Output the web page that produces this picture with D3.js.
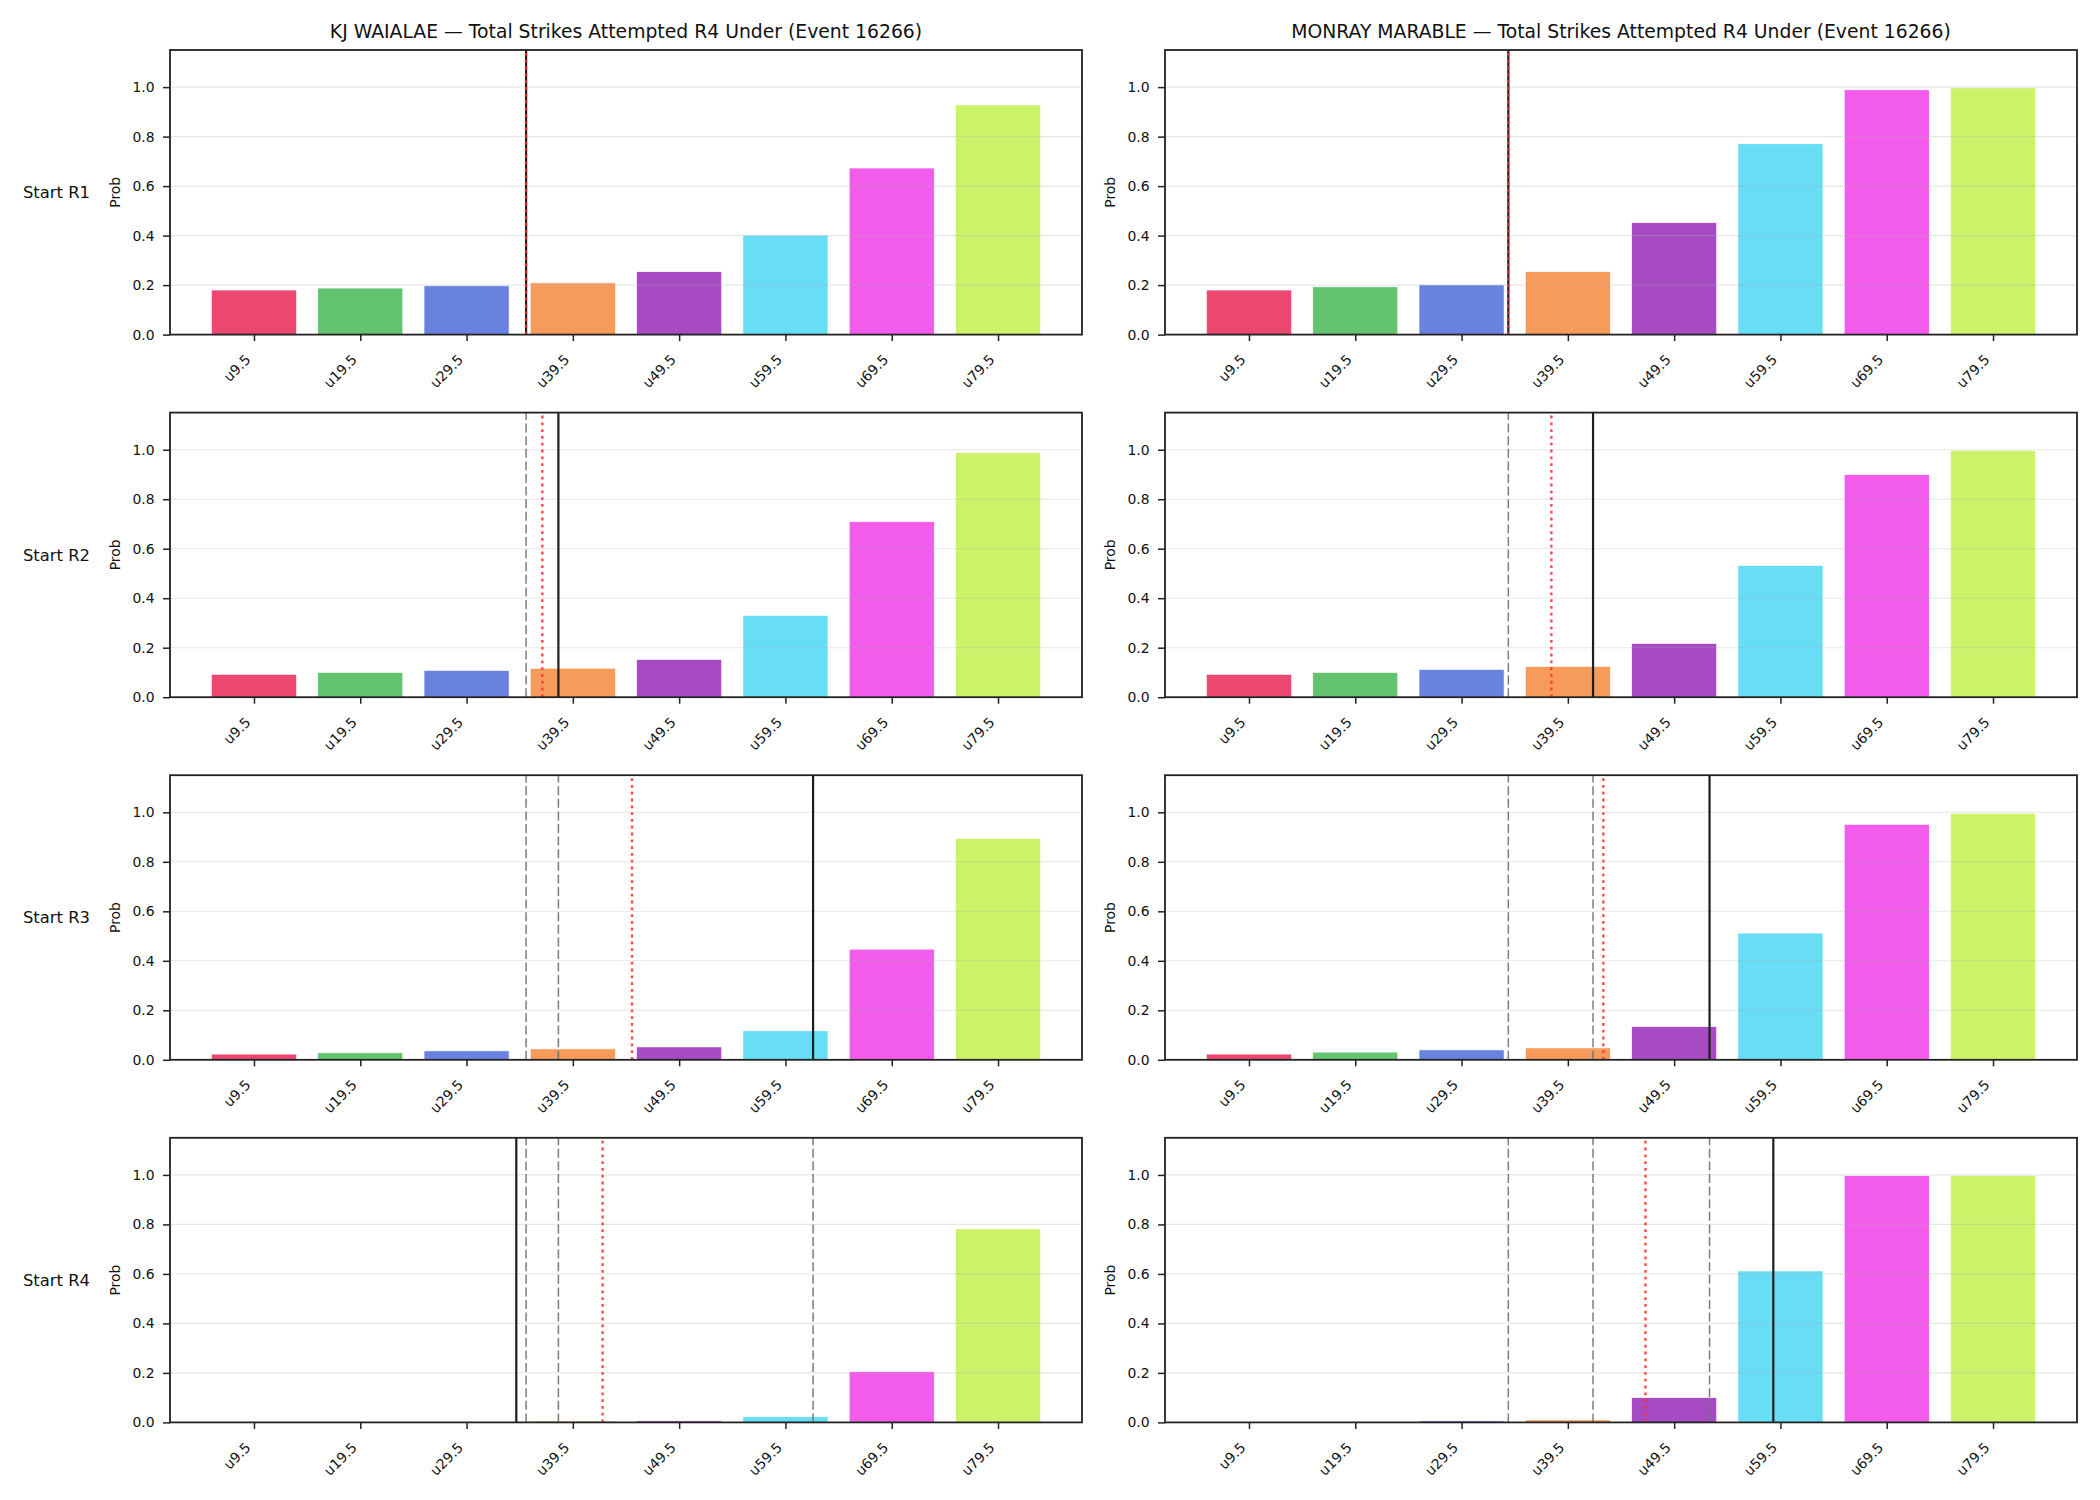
<!DOCTYPE html>
<html>
<head>
<meta charset="utf-8">
<script src="https://cdn.jsdelivr.net/npm/d3@7"></script>
<style>
  html, body { margin: 0; padding: 0; background: #ffffff; }
  svg { display: block; font-family: "DejaVu Sans", sans-serif; }
</style>
</head>
<body>
<svg id="chart" width="2100" height="1500"></svg>
<script>
// ---------------- DATA ----------------
const players = ["KJ WAIALAE", "MONRAY MARABLE"];
const titleSuffix = " — Total Strikes Attempted R4 Under (Event 16266)";
const rounds = ["Start R1", "Start R2", "Start R3", "Start R4"];
const categories = ["u9.5", "u19.5", "u29.5", "u39.5", "u49.5", "u59.5", "u69.5", "u79.5"];
const barColors = ["#e6194b", "#3cb44b", "#4363d8", "#f58231", "#911eb4", "#42d4f4", "#f032e6", "#bfef45"];
const yTicks = [0.0, 0.2, 0.4, 0.6, 0.8, 1.0];

// probabilities per round (rows) per category
const kjProbs = [
  [0.180, 0.188, 0.197, 0.209, 0.254, 0.402, 0.673, 0.928],
  [0.092, 0.100, 0.108, 0.117, 0.152, 0.330, 0.709, 0.988],
  [0.023, 0.028, 0.036, 0.044, 0.052, 0.117, 0.447, 0.895],
  [0.0005, 0.001, 0.002, 0.005, 0.006, 0.023, 0.205, 0.782]
];
const mmProbs = [
  [0.180, 0.193, 0.201, 0.254, 0.452, 0.771, 0.989, 0.997],
  [0.092, 0.100, 0.112, 0.124, 0.217, 0.532, 0.899, 0.996],
  [0.023, 0.031, 0.040, 0.048, 0.134, 0.512, 0.951, 0.996],
  [0.0005, 0.002, 0.006, 0.010, 0.100, 0.612, 0.997, 0.997]
];

// vertical marker positions, in category-index units
const kjSolid  = [2.56, 2.864, 5.26, 2.468];   // black solid line per round
const kjDotted = [2.56, 2.713, 3.557, 3.28];   // red dotted line per round
const mmSolid  = [2.44, 3.237, 4.333, 4.933];
const mmDotted = [2.44, 2.845, 3.334, 3.73];

// ---------------- LAYOUT ----------------
const svg = d3.select("#chart");
svg.append("rect").attr("width", 2100).attr("height", 1500).attr("fill", "#fff");

const colLeft = [170, 1165];
const panelW = 912;
const rowTop0 = 50, rowPitch = 362.6, panelH = 284.6;

const playerData = [
  { probs: kjProbs, solid: kjSolid, dotted: kjDotted },
  { probs: mmProbs, solid: mmSolid, dotted: mmDotted }
];

const x = d3.scaleLinear().domain([-0.79, 7.79]).range([0, panelW]);
const y = d3.scaleLinear().domain([0, 1.15]).range([panelH, 0]);
const barW = x(0.8) - x(0);

playerData.forEach((pd, c) => {
  rounds.forEach((rname, r) => {
    const g = svg.append("g")
      .attr("transform", `translate(${colLeft[c]},${rowTop0 + r * rowPitch})`);

    const vals = pd.probs[r];

    // bars
    g.selectAll("rect.bar").data(vals).enter().append("rect")
      .attr("class", "bar")
      .attr("x", (d, i) => x(i - 0.4))
      .attr("width", barW)
      .attr("y", d => y(d))
      .attr("height", d => y(0) - y(d))
      .attr("fill", (d, i) => barColors[i])
      .attr("fill-opacity", 0.8)
      .attr("stroke", "#fff")
      .attr("stroke-width", 0.6);

    // grid (over bars, like matplotlib default)
    g.selectAll("line.grid").data(yTicks.slice(1)).enter().append("line")
      .attr("class", "grid")
      .attr("x1", 0).attr("x2", panelW)
      .attr("y1", d => y(d)).attr("y2", d => y(d))
      .attr("stroke", "#b0b0b0").attr("stroke-opacity", 0.3)
      .attr("stroke-width", 1.1);

    // previous rounds' solid values as gray dashed lines
    const prev = pd.solid.slice(0, r);
    g.selectAll("line.prev").data(prev).enter().append("line")
      .attr("class", "prev")
      .attr("x1", d => x(d)).attr("x2", d => x(d))
      .attr("y1", y(0)).attr("y2", y(1.15))
      .attr("stroke", "#6e6e6e").attr("stroke-opacity", 0.9)
      .attr("stroke-width", 1.5)
      .attr("stroke-dasharray", "9,3.6");

    // black solid
    g.append("line")
      .attr("x1", x(pd.solid[r])).attr("x2", x(pd.solid[r]))
      .attr("y1", y(0)).attr("y2", y(1.15))
      .attr("stroke", "#1e1e1e").attr("stroke-width", 2.2);

    // red dotted
    g.append("line")
      .attr("x1", x(pd.dotted[r])).attr("x2", x(pd.dotted[r]))
      .attr("y1", y(0)).attr("y2", y(1.15))
      .attr("stroke", "#ff2a2a").attr("stroke-opacity", 0.85)
      .attr("stroke-width", 2.4)
      .attr("stroke-dasharray", "2.8,4");

    // y axis
    const ya = g.append("g")
      .call(d3.axisLeft(y).tickValues(yTicks).tickFormat(d3.format(".1f")).tickSize(7).tickPadding(8.5));
    ya.select(".domain").remove();
    ya.selectAll(".tick line").attr("stroke", "#222").attr("stroke-width", 1.5);
    ya.selectAll(".tick text").attr("fill", "#111").style("font-size", "13.9px")
      .style("font-family", "DejaVu Sans, sans-serif");

    // x axis
    const xa = g.append("g").attr("transform", `translate(0,${panelH})`)
      .call(d3.axisBottom(x).tickValues(d3.range(categories.length)).tickFormat(i => categories[i]).tickSize(6.5));
    xa.select(".domain").remove();
    xa.selectAll(".tick line").attr("stroke", "#222").attr("stroke-width", 1.5);
    xa.selectAll(".tick text")
      .attr("fill", "#111")
      .style("font-size", "13.9px")
      .style("font-family", "DejaVu Sans, sans-serif")
      .attr("x", 0).attr("y", 0).attr("dy", null)
      .attr("text-anchor", "end")
      .attr("transform", "translate(-3,26) rotate(-45)");

    // spines
    g.append("rect")
      .attr("x", 0).attr("y", 0).attr("width", panelW).attr("height", panelH)
      .attr("fill", "none").attr("stroke", "#222").attr("stroke-width", 1.8);

    // y label
    g.append("text")
      .attr("transform", `translate(-50,${panelH / 2}) rotate(-90)`)
      .attr("text-anchor", "middle")
      .attr("fill", "#111")
      .style("font-size", "13.9px")
      .text("Prob");

    // row label (left column only)
    if (c === 0) {
      g.append("text")
        .attr("x", 90 - colLeft[0]).attr("y", panelH / 2)
        .attr("dy", "0.35em")
        .attr("text-anchor", "end")
        .attr("fill", "#111")
        .style("font-size", "16.4px")
        .text(rname);
    }

    // title (top row only)
    if (r === 0) {
      g.append("text")
        .attr("x", panelW / 2).attr("y", -12)
        .attr("text-anchor", "middle")
        .attr("fill", "#111")
        .style("font-size", "18.8px")
        .text(players[c] + titleSuffix);
    }
  });
});
</script>
</body>
</html>
